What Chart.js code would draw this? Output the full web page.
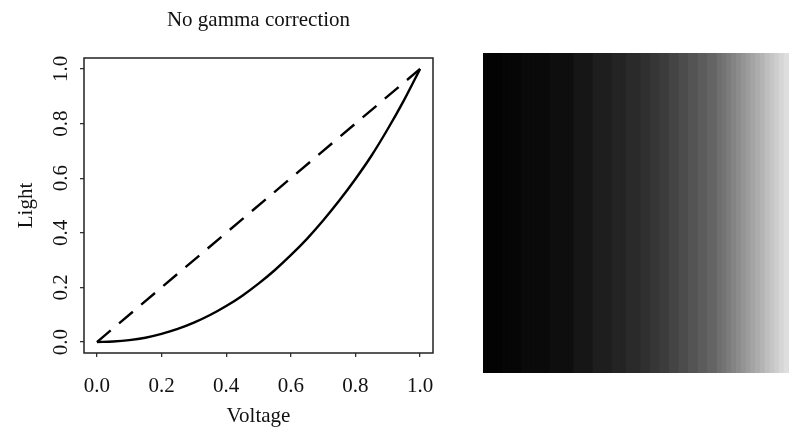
<!DOCTYPE html>
<html><head><meta charset="utf-8">
<script src="https://cdn.jsdelivr.net/npm/chart.js@4/dist/chart.umd.min.js"></script>
<style>
html,body{margin:0;padding:0;background:#fff;width:789px;height:429px;overflow:hidden}
#c1{position:absolute;left:0;top:0}
#c2{position:absolute;left:483px;top:53px}
</style></head><body>
<canvas id="c1" width="517" height="429"></canvas>
<canvas id="c2" width="306" height="320"></canvas>
<script>
// ---- data ----
const voltage = [0, 0.05, 0.1, 0.15, 0.2, 0.25, 0.3, 0.35, 0.4, 0.45, 0.5, 0.55, 0.6, 0.65, 0.7, 0.75, 0.8, 0.85, 0.9, 0.95, 1.0];
const lightNoCorrection = [0, 0.002, 0.007, 0.016, 0.03, 0.048, 0.071, 0.099, 0.132, 0.17, 0.214, 0.263, 0.318, 0.378, 0.445, 0.518, 0.597, 0.683, 0.78, 0.885, 1.0];
const linearVoltage = [0, 1];
const linearLight = [0, 1];
const axisTicks = [0, 0.2, 0.4, 0.6, 0.8, 1.0];
const chartTitle = 'No gamma correction';
const xTitle = 'Voltage';
const yTitle = 'Light';
// gray level (0-255) of each column of the displayed ramp, left to right
const grayLevels = [3,3,3,3, 6,6,6,6, 10,10,10,10,10,10, 14,14,14,14,14, 22,22,22,22, 30,30,30,30, 36,36,36, 42,42,42, 48,48, 54,54, 60,60, 68,68, 76,76, 84,84, 92,92, 100,100, 110,116,124,132,140,148,156,164,172,180,190,198,206,214,222];
const columnHeight = 1;

const FONT = {family: '"Liberation Serif", "Times New Roman", serif', size: 21, weight: 'normal'};
const INK = '#111';

const boxPlugin = {
  id: 'box',
  afterDraw(chart) {
    const a = chart.chartArea, ctx = chart.ctx;
    ctx.save();
    ctx.strokeStyle = '#222';
    ctx.lineWidth = 1.5;
    ctx.strokeRect(a.left, a.top, a.right - a.left, a.bottom - a.top);
    // main title centred over the plot box
    ctx.fillStyle = INK;
    ctx.font = '21px "Liberation Serif", "Times New Roman", serif';
    ctx.textAlign = 'center';
    ctx.textBaseline = 'alphabetic';
    ctx.fillText(chartTitle, (a.left + a.right) / 2, 26);
    ctx.restore();
  }
};

new Chart(document.getElementById('c1'), {
  type: 'line',
  data: {
    datasets: [
      {
        data: voltage.map((v, i) => ({x: v, y: lightNoCorrection[i]})),
        borderColor: '#000', borderWidth: 2.4, pointRadius: 0,
        cubicInterpolationMode: 'monotone', fill: false
      },
      {
        data: linearVoltage.map((v, i) => ({x: v, y: linearLight[i]})),
        borderColor: '#000', borderWidth: 2.4, pointRadius: 0,
        borderDash: [18, 11], fill: false
      }
    ]
  },
  options: {
    responsive: false, animation: false, devicePixelRatio: 1,
    layout: {padding: {left: 0, right: 84, top: 58, bottom: 0}},
    plugins: {
      legend: {display: false}, tooltip: {enabled: false}, title: {display: false}
    },
    scales: {
      x: {
        type: 'linear', min: -0.04, max: 1.04,
        afterBuildTicks: s => { s.ticks = axisTicks.map(v => ({value: v})); },
        afterFit: s => { s.height = 76; },
        grid: {drawOnChartArea: false, drawTicks: true, tickLength: 4, color: '#333', lineWidth: 1.3},
        border: {display: false},
        ticks: {font: FONT, color: INK, padding: 17, maxRotation: 0, callback: v => Number(v).toFixed(1)},
        title: {display: true, text: xTitle, font: FONT, color: INK, padding: {top: 0, bottom: 0}}
      },
      y: {
        type: 'linear', min: -0.04, max: 1.04,
        afterBuildTicks: s => { s.ticks = axisTicks.map(v => ({value: v})); },
        afterFit: s => { s.width = 84; },
        grid: {drawOnChartArea: false, drawTicks: true, tickLength: 4, color: '#333', lineWidth: 1.3},
        border: {display: false},
        ticks: {font: FONT, color: INK, padding: 5.3, minRotation: 90, maxRotation: 90, crossAlign: 'center', callback: v => Number(v).toFixed(1)},
        title: {display: true, text: yTitle, font: FONT, color: INK, padding: {top: 14, bottom: 0}}
      }
    }
  },
  plugins: [boxPlugin]
});

new Chart(document.getElementById('c2'), {
  type: 'bar',
  data: {
    labels: grayLevels.map((g, i) => String(i)),
    datasets: [{
      data: grayLevels.map(() => columnHeight),
      backgroundColor: grayLevels.map(g => `rgb(${g},${g},${g})`),
      borderWidth: 0, barPercentage: 1, categoryPercentage: 1, inflateAmount: 0.5
    }]
  },
  options: {
    responsive: false, animation: false, devicePixelRatio: 1,
    layout: {padding: 0},
    plugins: {legend: {display: false}, tooltip: {enabled: false}},
    scales: {x: {display: false}, y: {display: false, min: 0, max: 1}}
  }
});
</script>
</body></html>
